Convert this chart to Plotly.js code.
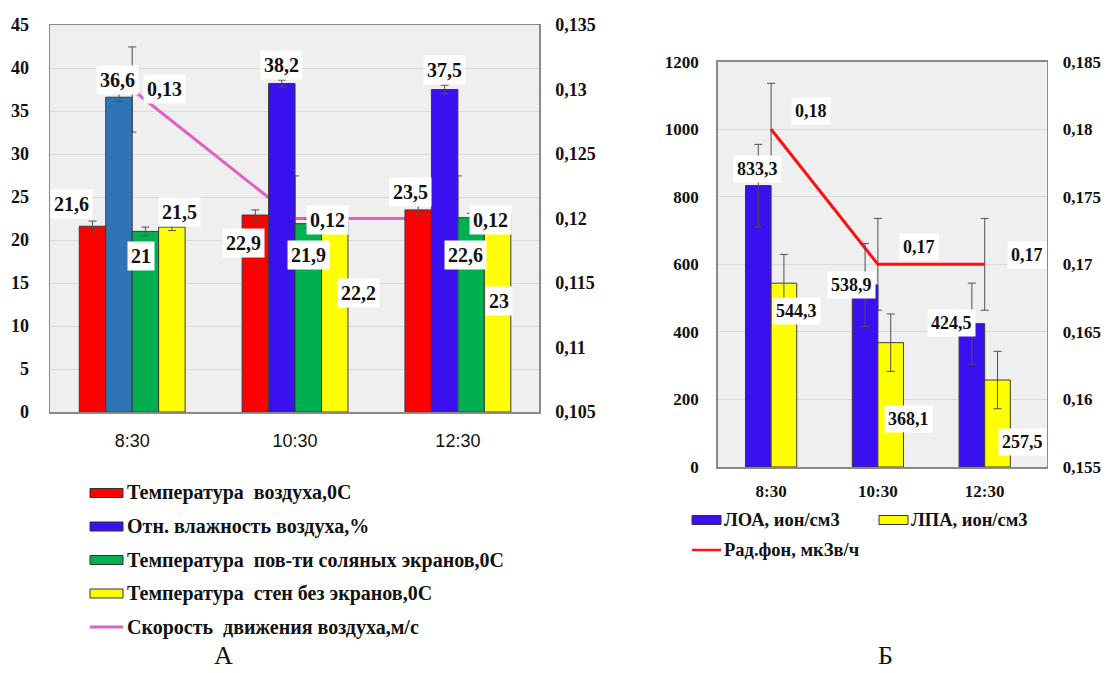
<!DOCTYPE html>
<html><head><meta charset="utf-8">
<script src="https://cdn.plot.ly/plotly-3.0.1.min.js"></script>
<style>html,body{margin:0;padding:0;background:#fff;} #chart{width:1107px;height:673px;}</style>
</head><body><div id="chart"></div>
<script>
// ---------- Data: chart А ----------
const timesA = ['8:30', '10:30', '12:30'];
const airTemp = [21.6, 22.9, 23.5];
const airTempErr = [0.6, 0.6, 0.5];
const humidity = [36.6, 38.2, 37.5];
const humidityErr = [0.5, 0.4, 0.5];
const screenTemp = [21, 21.9, 22.6];
const screenTempErr = [0.5, 0.5, 0.5];
const wallTemp = [21.5, 22.2, 23];
const wallTempErr = [0.4, 0.4, 0.4];
const airSpeed = [0.13, 0.12, 0.12];
const airSpeedErr = [0.0033, 0.0033, 0.0033];
const namesA = ['Температура  воздуха,0С', 'Отн. влажность воздуха,%',
  'Температура  пов-ти соляных экранов,0С', 'Температура  стен без экранов,0С',
  'Скорость  движения воздуха,м/с'];

// ---------- Data: chart Б ----------
const timesB = ['8:30', '10:30', '12:30'];
const loa = [833.3, 538.9, 424.5];
const loaErr = [122, 123, 120];
const lpa = [544.3, 368.1, 257.5];
const lpaErr = [85, 85, 85];
const radBg = [0.18, 0.17, 0.17];
const radBgErr = [0.0034, 0.0034, 0.0034];
const namesB = ['ЛОА, ион/см3', 'ЛПА, ион/см3', 'Рад.фон, мкЗв/ч'];

const panelLabels = ['А', 'Б'];

// ---------- Styles ----------
const W = 1107, H = 673;
const px = x => x / W, py = y => 1 - y / H;
const fmt = v => String(v).replace('.', ',');
const SERIF = 'Liberation Serif, Times New Roman, serif';
const SANS = 'Liberation Sans, Arial, sans-serif';
const bold = s => ({family: SERIF, size: s, color: '#111', weight: 'bold'});
const RED = '#ff0000', BLUE = '#3a10f0', STEEL = '#2e75b6', GREEN = '#00b050', YELLOW = '#ffff00', PINK = '#e060c8';
const humidityColors = [STEEL, BLUE, BLUE];
const barLine = {color: '#3a3a3a', width: 1};
const err = (arr) => ({type: 'data', array: arr, color: '#505050', thickness: 1, width: 4});

const traces = [
  // chart А: line first on main axis (behind the bars)
  {type: 'scatter', mode: 'lines', x: timesA, y: airSpeed, xaxis: 'x', yaxis: 'y',
   line: {color: PINK, width: 3}, error_y: err(airSpeedErr), name: namesA[4]},
  {type: 'bar', x: timesA, y: airTemp, xaxis: 'x', yaxis: 'y2', name: namesA[0],
   marker: {color: RED, line: barLine}, error_y: err(airTempErr)},
  {type: 'bar', x: timesA, y: humidity, xaxis: 'x', yaxis: 'y2', name: namesA[1],
   marker: {color: humidityColors, line: barLine}, error_y: err(humidityErr)},
  {type: 'bar', x: timesA, y: screenTemp, xaxis: 'x', yaxis: 'y2', name: namesA[2],
   marker: {color: GREEN, line: barLine}, error_y: err(screenTempErr)},
  {type: 'bar', x: timesA, y: wallTemp, xaxis: 'x', yaxis: 'y2', name: namesA[3],
   marker: {color: YELLOW, line: barLine}, error_y: err(wallTempErr)},
  // chart Б
  {type: 'scatter', mode: 'lines', x: timesB, y: radBg, xaxis: 'x2', yaxis: 'y3',
   line: {color: '#ff1010', width: 3}, error_y: err(radBgErr), name: namesB[2]},
  {type: 'bar', x: timesB, y: loa, xaxis: 'x2', yaxis: 'y4', name: namesB[0],
   offset: -0.24, width: 0.24, marker: {color: BLUE, line: barLine}, error_y: err(loaErr)},
  {type: 'bar', x: timesB, y: lpa, xaxis: 'x2', yaxis: 'y4', name: namesB[1],
   offset: 0, width: 0.24, marker: {color: YELLOW, line: barLine}, error_y: err(lpaErr)}
];

// ---------- Data labels ----------
const annotations = [];
// bar centre offsets (category units) and label offsets (px)
const barPosA = [-0.24375, -0.08125, 0.08125, 0.24375];
const seriesA = [airTemp, humidity, screenTemp, wallTemp];
const labelOffA = [
  [[-21, -22], [-11.5, 28], [-8, -18]],
  [[-1.5, -17], [0, -18.5], [0, -19.5]],
  [[-4, 25], [0.5, 31], [-6, 37]],
  [[8, -15], [24, 72], [1, 87]]
];
const lineOffA = [[32, 0], [32, 1.5], [32.5, 1.5]];
const barPosB = [-0.12, 0.12];
const seriesB = [loa, lpa];
const labelOffB = [
  [[-1, -16.5], [-14, 0], [-20.5, -1]],
  [[13, 28], [18, 76.5], [24.5, 62]]
];
const lineOffB = [[40, -18], [41, -17], [42, -9]];

function addLabel(xref, yref, x, y, text, off, size) {
  annotations.push({xref, yref, x, y, text, showarrow: false,
    xshift: off[0], yshift: -off[1], xanchor: 'center', yanchor: 'middle',
    bgcolor: '#ffffff', borderpad: 3, font: bold(size)});
}
seriesA.forEach((s, si) => s.forEach((v, ci) =>
  addLabel('x', 'y2', ci + barPosA[si], v, fmt(v), labelOffA[si][ci], 20)));
airSpeed.forEach((v, ci) => addLabel('x', 'y', ci, v, fmt(v), lineOffA[ci], 20));
seriesB.forEach((s, si) => s.forEach((v, ci) =>
  addLabel('x2', 'y4', ci + barPosB[si], v, fmt(v), labelOffB[si][ci], 18)));
radBg.forEach((v, ci) => addLabel('x2', 'y3', ci, v, fmt(v), lineOffB[ci], 18));

// ---------- Manual legends ----------
const shapes = [];
const colorsA = [RED, BLUE, GREEN, YELLOW];
namesA.forEach((n, i) => {
  const yc = 493 + i * 33.5;
  if (i < 4) {
    shapes.push({type: 'rect', xref: 'paper', yref: 'paper', x0: px(90), x1: px(123),
      y0: py(yc - 4.5), y1: py(yc + 4.5), fillcolor: colorsA[i], line: {color: '#333', width: 1}});
  } else {
    shapes.push({type: 'line', xref: 'paper', yref: 'paper', x0: px(90), x1: px(123),
      y0: py(yc), y1: py(yc), line: {color: PINK, width: 3}});
  }
  annotations.push({xref: 'paper', yref: 'paper', x: px(125), y: py(yc), text: n, showarrow: false,
    xanchor: 'left', yanchor: 'middle', font: bold(20)});
});
const legB = [
  {x: 692, y: 520, kind: 'rect', color: BLUE},
  {x: 879, y: 520, kind: 'rect', color: YELLOW},
  {x: 692, y: 550, kind: 'line', color: '#ff1010'}
];
namesB.forEach((n, i) => {
  const L = legB[i];
  if (L.kind === 'rect') {
    shapes.push({type: 'rect', xref: 'paper', yref: 'paper', x0: px(L.x), x1: px(L.x + 29),
      y0: py(L.y - 4.5), y1: py(L.y + 4.5), fillcolor: L.color, line: {color: '#333', width: 1}});
  } else {
    shapes.push({type: 'line', xref: 'paper', yref: 'paper', x0: px(L.x), x1: px(L.x + 29),
      y0: py(L.y), y1: py(L.y), line: {color: L.color, width: 2.5}});
  }
  annotations.push({xref: 'paper', yref: 'paper', x: px(L.x + 30), y: py(L.y), text: n, showarrow: false,
    xanchor: 'left', yanchor: 'middle', font: bold(18.5)});
});
annotations.push({xref: 'paper', yref: 'paper', x: px(223), y: py(655), text: panelLabels[0], showarrow: false,
  xanchor: 'center', yanchor: 'middle', font: {family: SERIF, size: 26, color: '#111'}});
annotations.push({xref: 'paper', yref: 'paper', x: px(885), y: py(655), text: panelLabels[1], showarrow: false,
  xanchor: 'center', yanchor: 'middle', font: {family: SERIF, size: 26, color: '#111'}});

// ---------- Layout ----------
const frame = {showline: true, mirror: true, linecolor: '#8a8a8a', linewidth: 1.5, zeroline: false, ticks: ''};
const layout = {
  width: W, height: H, margin: {l: 0, r: 0, t: 0, b: 0},
  paper_bgcolor: '#ffffff', plot_bgcolor: '#efefef',
  separators: ', ', showlegend: false,
  barmode: 'group', bargap: 0.35, bargroupgap: 0,
  xaxis: Object.assign({}, frame, {domain: [px(50), px(539.3)], anchor: 'y', type: 'category',
    showgrid: false, tickfont: {family: SANS, size: 18, color: '#111'}, ticklabelstandoff: 12}),
  yaxis: {domain: [py(412), py(25)], anchor: 'x', side: 'right', range: [0.105, 0.135],
    tick0: 0.105, dtick: 0.005, tickformat: '~g', showgrid: false, zeroline: false, showline: false,
    ticks: '', tickfont: bold(18), ticklabelstandoff: 15},
  yaxis2: Object.assign({}, frame, {overlaying: 'y', anchor: 'x', side: 'left', range: [0, 45], dtick: 5,
    showgrid: true, gridcolor: '#dadada', gridwidth: 1, tickfont: bold(18), ticklabelstandoff: 16}),
  xaxis2: Object.assign({}, frame, {domain: [px(717.7), px(1046.7)], anchor: 'y3', type: 'category',
    showgrid: false, tickfont: bold(17), ticklabelstandoff: 8}),
  yaxis3: {domain: [py(467), py(61.7)], anchor: 'x2', side: 'right', range: [0.155, 0.185],
    tick0: 0.155, dtick: 0.005, tickformat: '~g', showgrid: false, zeroline: false, showline: false,
    ticks: '', tickfont: bold(17), ticklabelstandoff: 15},
  yaxis4: Object.assign({}, frame, {overlaying: 'y3', anchor: 'x2', side: 'left', range: [0, 1200], dtick: 200,
    showgrid: true, gridcolor: '#dadada', gridwidth: 1, tickfont: bold(17), ticklabelstandoff: 14}),
  shapes, annotations
};

Plotly.newPlot('chart', traces, layout, {staticPlot: true, displayModeBar: false});
</script></body></html>
